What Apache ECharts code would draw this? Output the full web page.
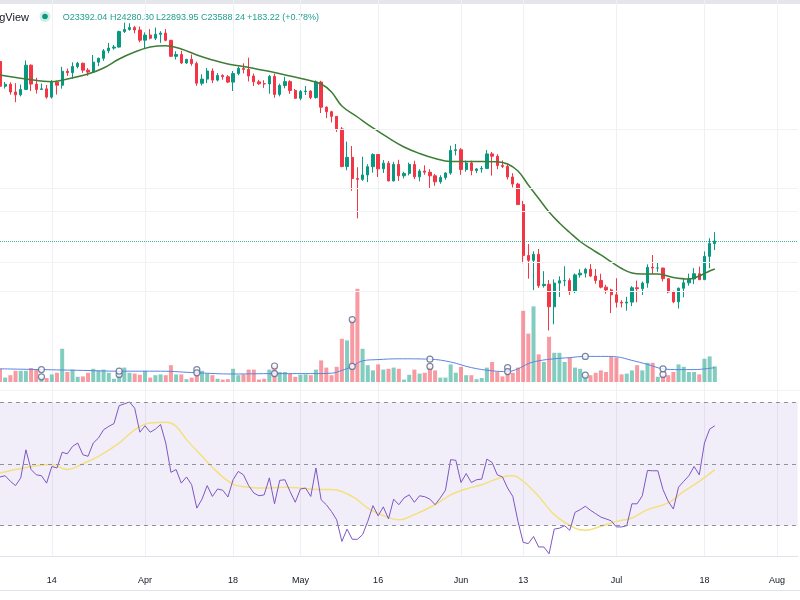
<!DOCTYPE html>
<html><head><meta charset="utf-8">
<script src="https://cdn.jsdelivr.net/npm/echarts@6.0.0/dist/echarts.min.js"></script>
<style>html,body{margin:0;padding:0;background:#fff}#c{width:800px;height:600px}</style>
</head><body><div id="c"></div>
<script>
// ---- categories (daily, 2022-03-04 .. 2022-08-05) ----
const firstDay = '2022-03-04';
const dayCount = 155;
const dates = [];
for (let k = 0; k < dayCount; k++) {
  const d = new Date(Date.UTC(2022, 2, 4 + k));
  dates.push(d.toISOString().slice(0, 10));
}
// ---- tick labels ----
const tickDates = ['2022-03-14','2022-04-01','2022-04-18','2022-05-01','2022-05-16','2022-06-01','2022-06-13','2022-07-01','2022-07-18','2022-08-01'];
const tickTexts = ['14','Apr','18','May','16','Jun','13','Jul','18','Aug'];

// ---- OHLC (Mar 4 .. Jul 20) ----
const opens = [
42450,39150,39400,38420,38060,38740,41940,39420,38730,38810,37780,39670,39280,41110,40920,41760,42200,41260,41000,42360,42890,43960,44350,44500,46820,47130,47430,47060,
45520,46280,45810,46400,46580,45500,43170,43440,42250,42750,42160,39530,40070,41150,39940,40550,40380,39680,40800,41500,41360,40480,39710,39470,39450,40430,38110,39240,39740,38600,
37630,38470,38530,37720,39690,36550,36010,35470,34040,30100,31020,28940,28860,29280,30080,31310,29870,30430,28710,30310,29200,29430,30300,29100,29650,29540,29200,28630,29030,29470,31730,
31800,29800,30450,29700,29860,29910,31370,31130,30200,30110,29090,28420,26570,22490,22140,22580,20380,20470,19020,20550,20710,20720,19990,21110,21230,21500,21030,20730,20280,20100,
19780,19300,19250,19310,20240,20180,20550,21640,21590,21590,20850,19960,19330,20210,20570,20830,21190,20780,22430,23392.04];
const closes = [
39150,39400,38420,38060,38740,41940,39420,38730,38810,37780,39670,39280,41110,40920,41760,42200,41260,41000,42360,42890,43960,44350,44500,46820,47130,47430,47060,45520,
46280,45810,46400,46580,45500,43170,43440,42250,42750,42160,39530,40070,41150,39940,40550,40380,39680,40800,41500,41360,40480,39710,39470,39450,40430,38110,39240,39740,38600,37630,
38470,38530,37720,39690,36550,36010,35470,34040,30100,31020,28940,28860,29280,30080,31310,29870,30430,28710,30310,29200,29430,30300,29100,29650,29540,29200,28630,29030,29470,31730,31800,
29800,30450,29700,29860,29910,31370,31130,30200,30110,29090,28420,26570,22490,22140,22580,20380,20470,19020,20550,20710,20720,19990,21110,21230,21500,21030,20730,20280,20100,19780,
19300,19250,19310,20240,20180,20550,21640,21590,21590,20850,19960,19330,20210,20570,20830,21190,20780,22430,23400,23588.24];
const highs = [
42530,39700,39650,39550,39360,42600,42050,40240,39490,39300,39950,39880,41720,41480,42330,42400,42300,41540,43360,43000,44220,45100,44800,46950,48190,48100,47700,47600,
46700,47200,47440,46880,47200,45500,43900,43970,42800,43430,42420,40700,41560,41500,40870,40710,40600,41140,41760,42200,42980,40800,39980,39930,40620,40800,39470,40370,39920,38800,
38670,39170,38640,39900,39850,36650,36130,35500,34250,32660,32190,30030,31080,30330,31420,31310,30740,30650,30550,30770,29590,30490,30670,29830,30220,29840,29380,29250,29530,32220,32400,
31980,30690,30680,29950,30150,31770,31570,31330,30700,30380,29440,28540,26900,23360,22800,22980,21370,20760,20800,21010,21720,20880,21210,21510,21600,21870,21520,21190,20430,20180,
20880,19430,19650,20350,20720,20660,21850,22530,21960,21600,20860,20050,20250,20880,21200,21580,21690,22790,23800,24280.30];
const lows = [
38550,38850,38090,37150,37870,38660,38540,38220,38660,37580,37590,38100,38830,40500,40130,41500,40900,40500,40880,41810,42550,43600,44120,44420,46600,46950,46550,45200,
44200,45640,45520,45120,45350,43120,42730,42100,42120,41860,39200,39250,39550,39550,39770,39990,39550,38540,40570,40820,39760,39180,39310,38930,38200,37700,37870,38880,38180,37580,
37390,38050,37510,37590,35860,35260,34780,33710,30030,29730,27800,25400,28720,28600,29500,29090,29470,28680,28680,28720,28950,29240,28890,28670,29300,28020,28260,28450,28820,29300,31220,
29300,29590,29250,29460,29500,29890,29220,29840,29950,28850,28100,26560,21930,20850,20080,20230,20250,17600,17960,19640,20350,19770,19890,20920,20930,20960,20510,20200,19850,18630,
18970,18980,18780,19060,19300,19770,20240,21180,21320,20660,19880,19240,18910,19620,20380,20480,20760,20760,21580,22893.95];

// ---- volume (thousands) ----
const volumes = [
33,11,17,28,28,28,35,31,13,10,19,23,83,25,31,13,14,23,33,29,31,23,8,19,36,23,21,18,
28,11,17,19,17,42,19,19,7,11,31,28,21,17,8,6,7,33,17,19,31,31,6,8,31,40,25,25,21,13,
18,19,17,31,54,36,17,38,108,104,156,233,83,42,29,44,31,33,36,33,6,18,31,21,23,39,29,11,11,44,23,
38,17,17,7,10,36,50,25,14,36,23,36,178,121,189,69,50,113,73,73,50,61,36,33,17,17,23,29,25,64,
61,19,21,29,42,29,48,48,13,19,17,25,44,38,25,25,19,58,64,39];
const volMaDates = ['2022-03-04','2022-03-08','2022-03-12','2022-03-16','2022-03-20','2022-03-27','2022-04-04','2022-04-11','2022-04-18','2022-04-26','2022-05-03','2022-05-07','2022-05-09','2022-05-11','2022-05-13','2022-05-16','2022-05-20','2022-05-26','2022-05-30','2022-06-03','2022-06-07','2022-06-10','2022-06-12','2022-06-14','2022-06-16','2022-06-19','2022-06-22','2022-06-25','2022-06-29','2022-07-01','2022-07-04','2022-07-07','2022-07-10','2022-07-13','2022-07-16','2022-07-20'];
const volMaValues = [33,32,31,30,29,27,27,23,20,21,21,22,29,39,53,56,58,57,50,36,28,26,33,46,53,58,61,64,64,63,54,44,33,31,31,36];
const markerDates = ['2022-03-12','2022-03-27','2022-04-11','2022-04-26','2022-05-11','2022-05-26','2022-06-10','2022-06-25','2022-07-10'];

// ---- price moving average ----
const maDates = ['2022-03-04','2022-03-09','2022-03-14','2022-03-17','2022-03-21','2022-03-24','2022-03-27','2022-03-30','2022-04-02','2022-04-05','2022-04-08','2022-04-11','2022-04-14','2022-04-17','2022-04-20','2022-04-23','2022-04-26','2022-04-29','2022-05-02','2022-05-05','2022-05-07','2022-05-09','2022-05-12','2022-05-15','2022-05-18','2022-05-21','2022-05-24','2022-05-27','2022-05-30','2022-06-02','2022-06-05','2022-06-08','2022-06-10','2022-06-12','2022-06-14','2022-06-16','2022-06-18','2022-06-20','2022-06-22','2022-06-24','2022-06-26','2022-06-28','2022-06-30','2022-07-02','2022-07-04','2022-07-06','2022-07-09','2022-07-12','2022-07-15','2022-07-17','2022-07-19','2022-07-20'];
const maValues = [40610,40085,39734,40085,40746,41557,42797,43791,44513,44704,44223,43362,42659,42104,41763,41355,40951,40482,40019,39435,38416,36696,35397,34146,33047,32087,31410,30900,30599,30599,30599,30579,30349,29662,28334,27108,25937,25020,24253,23549,23016,22531,22021,21558,21242,21173,21173,20932,20829,21035,21382,21523];

// ---- RSI ----
const rsiValues = [
45.8,46.2,44.4,43.0,45.5,54.6,48.2,46.5,46.2,43.8,49.2,48.7,53.8,53.3,55.7,56.8,53.0,52.5,56.8,58.4,61.1,62.2,63.1,68.9,69.5,70.1,68.1,60.3,
62.4,60.3,61.3,62.8,56.8,47.3,48.2,43.8,45.8,43.3,35.7,38.6,43.0,39.5,41.9,41.5,39.3,44.9,47.6,46.5,43.0,40.6,39.7,40.0,45.5,37.1,44.7,44.9,41.1,37.6,
41.9,42.2,39.5,48.7,38.4,36.8,34.6,31.9,24.9,28.9,25.6,25.6,27.1,31.4,36.5,33.2,36.1,32.2,38.6,36.8,39.0,40.0,37.6,39.7,39.4,38.6,36.8,39.0,41.5,51.4,51.2,
44.0,46.9,44.0,44.9,45.1,51.6,50.5,46.5,45.8,42.2,39.5,31.4,24.6,24.2,26.5,23.1,23.1,20.9,28.9,29.2,30.0,28.5,34.3,35.2,36.3,35.0,33.9,32.8,32.2,31.6,
29.6,29.6,30.0,37.1,37.1,39.7,47.9,47.8,47.8,41.7,37.9,35.4,42.5,44.4,46.2,49.2,46.5,56.8,61.3,62.4];
const rsiMaDates = ['2022-03-04','2022-03-07','2022-03-11','2022-03-14','2022-03-17','2022-03-20','2022-03-23','2022-03-27','2022-03-30','2022-04-02','2022-04-05','2022-04-07','2022-04-09','2022-04-12','2022-04-15','2022-04-18','2022-04-21','2022-04-25','2022-04-28','2022-05-01','2022-05-04','2022-05-07','2022-05-11','2022-05-14','2022-05-17','2022-05-20','2022-05-23','2022-05-27','2022-05-30','2022-06-02','2022-06-05','2022-06-09','2022-06-11','2022-06-13','2022-06-16','2022-06-19','2022-06-23','2022-06-25','2022-06-28','2022-07-01','2022-07-04','2022-07-07','2022-07-11','2022-07-14','2022-07-17','2022-07-20'];
const rsiMaValues = [47.1,48.2,49.4,49.8,48.2,50.1,52.5,56.8,61.1,63.3,63.5,62.2,57.9,52.5,47.3,43.5,42.5,42.2,42.5,42.2,41.7,41.7,39.5,35.7,33.3,31.9,33.6,36.8,40.0,41.9,43.3,45.8,46.2,44.4,39.5,33.6,29.2,28.5,29.8,31.4,32.5,35.2,37.4,41.1,44.4,48.2];
const rsiLevels = [70, 50, 30];
const priceGridLevels = [20000, 22000, 26000, 28000, 34000];
const headerPieces = ['O23392.04','H24280.30','L22893.95','C23588.24','+183.22 (+0.78%)'];

// ---- layout / styles ----
const BAND = 5.185;
const gridLeft = -0.8;
const gridWidth = BAND * (dayCount - 1);
const UP = '#089981', DOWN = '#f23645';
const FONT = '"Liberation Sans", Arial, sans-serif';
const tickMap = {};
tickDates.forEach((d, k) => tickMap[d] = tickTexts[k]);
const isTick = (idx, val) => tickMap[val] !== undefined;

const candleData = opens.map((o, k) => [o, closes[k], lows[k], highs[k]]);
const volData = volumes.map((v, k) => ({
  value: v,
  itemStyle: { color: closes[k] >= opens[k] ? 'rgba(8,153,129,0.5)' : 'rgba(242,54,69,0.5)' }
}));
const volMaData = volMaDates.map((d, k) => [d, volMaValues[k]]);
const markerBarData = markerDates.map(d => [d, volumes[dates.indexOf(d)]]);
const markerMaData = markerDates.map(d => [d, volMaValues[volMaDates.indexOf(d)]]);
const maData = maDates.map((d, k) => [d, maValues[k]]);
const rsiMaData = rsiMaDates.map((d, k) => [d, rsiMaValues[k]]);

const xBase = {
  type: 'category', data: dates, boundaryGap: false,
  axisTick: { show: false }, axisLine: { show: false }, axisLabel: { show: false },
  splitLine: { show: true, interval: isTick, lineStyle: { color: '#eef0f4', width: 1 } }
};

const chart = echarts.init(document.getElementById('c'), null, { renderer: 'canvas' });
chart.setOption({
  animation: false,
  backgroundColor: '#ffffff',
  grid: [
    { left: gridLeft, width: gridWidth, top: 0, height: 390 },
    { left: gridLeft, width: gridWidth, top: 282, height: 100 },
    { left: gridLeft, width: gridWidth, top: 389.96, height: 166.6 }
  ],
  xAxis: [
    Object.assign({}, xBase, { gridIndex: 0 }),
    Object.assign({}, xBase, { gridIndex: 1, splitLine: { show: false } }),
    Object.assign({}, xBase, {
      gridIndex: 2,
      axisLine: { show: true, lineStyle: { color: '#e0e3eb' } },
      axisLabel: {
        show: true, interval: isTick, formatter: v => tickMap[v] || '',
        color: '#131722', fontSize: 9, fontFamily: FONT, margin: 19
      }
    })
  ],
  yAxis: [
    { gridIndex: 0, type: 'log', min: 14483, max: 51914, show: false, splitLine: { show: false } },
    { gridIndex: 1, type: 'value', min: 0, max: 250, show: false, splitLine: { show: false } },
    { gridIndex: 2, type: 'value', min: 20, max: 74, show: false, splitLine: { show: false } }
  ],
  series: [
    {
      name: 'Volume', type: 'bar', xAxisIndex: 1, yAxisIndex: 1, data: volData,
      barWidth: 4, z: 1, silent: true
    },
    {
      name: 'Volume MA', type: 'line', xAxisIndex: 1, yAxisIndex: 1, data: volMaData,
      smooth: 0.4, symbol: 'none', lineStyle: { color: '#5b84e0', width: 1 }, z: 2
    },
    {
      name: 'Markers', type: 'scatter', xAxisIndex: 1, yAxisIndex: 1,
      data: markerBarData.concat(markerMaData),
      symbol: 'circle', symbolSize: 6,
      itemStyle: { color: '#ffffff', borderColor: '#58668f', borderWidth: 1.2 }, z: 6
    },
    {
      name: 'Price', type: 'candlestick', xAxisIndex: 0, yAxisIndex: 0, data: candleData,
      barWidth: 2.8, z: 3,
      itemStyle: { color: UP, color0: DOWN, borderColor: UP, borderColor0: DOWN, borderWidth: 1 },
      markLine: {
        silent: true, symbol: ['none', 'none'], label: { show: false },
        data: priceGridLevels.map(v => ({ yAxis: v, lineStyle: { color: '#f0f2f6', width: 1, type: 'solid' } }))
          .concat([{ yAxis: closes[closes.length - 1], lineStyle: { color: 'rgba(8,153,129,0.75)', width: 1, type: 'dotted' } }])
      }
    },
    {
      name: 'MA', type: 'line', xAxisIndex: 0, yAxisIndex: 0, data: maData,
      smooth: 0.4, symbol: 'none', lineStyle: { color: '#3d7d35', width: 1.5 }, z: 4
    },
    {
      name: 'RSI MA', type: 'line', xAxisIndex: 2, yAxisIndex: 2, data: rsiMaData,
      smooth: 0.4, symbol: 'none', lineStyle: { color: '#f3e07e', width: 1.5 }, z: 3
    },
    {
      name: 'RSI', type: 'line', xAxisIndex: 2, yAxisIndex: 2, data: rsiValues,
      symbol: 'none', lineStyle: { color: '#7e57c2', width: 1 }, z: 4,
      markArea: {
        silent: true, itemStyle: { color: 'rgba(126,87,194,0.1)' },
        data: [[{ yAxis: rsiLevels[0] }, { yAxis: rsiLevels[2] }]]
      },
      markLine: {
        silent: true, symbol: ['none', 'none'], label: { show: false },
        lineStyle: { color: '#8f929c', width: 1, type: [4, 4] },
        data: rsiLevels.map(v => ({ yAxis: v }))
      }
    }
  ],
  graphic: [
    { type: 'rect', shape: { x: 0, y: 0, width: 800, height: 4 }, style: { fill: '#e4e6eb' }, silent: true },
    { type: 'line', shape: { x1: 0, y1: 390.5, x2: 800, y2: 390.5 }, style: { stroke: '#f0f2f5', lineWidth: 1 }, silent: true },
    { type: 'line', shape: { x1: 0, y1: 590.5, x2: 800, y2: 590.5 }, style: { stroke: '#e0e3eb', lineWidth: 1 }, silent: true },
    { type: 'text', x: 29, y: 17.5, style: { text: 'TradingView', fill: '#131722', fontSize: 11, fontFamily: FONT, align: 'right', verticalAlign: 'middle' } },
    { type: 'circle', shape: { cx: 45, cy: 16.5, r: 5.5 }, style: { fill: 'rgba(8,153,129,0.18)' } },
    { type: 'circle', shape: { cx: 45, cy: 16.5, r: 2.8 }, style: { fill: UP } },
    { type: 'text', x: 62.7, y: 17.5, style: { text: headerPieces[0], fill: '#22a08f', fontSize: 9, fontFamily: FONT, verticalAlign: 'middle' } },
    { type: 'text', x: 110, y: 17.5, style: { text: headerPieces[1], fill: '#22a08f', fontSize: 9, fontFamily: FONT, verticalAlign: 'middle' } },
    { type: 'text', x: 156, y: 17.5, style: { text: headerPieces[2], fill: '#22a08f', fontSize: 9, fontFamily: FONT, verticalAlign: 'middle' } },
    { type: 'text', x: 201, y: 17.5, style: { text: headerPieces[3], fill: '#22a08f', fontSize: 9, fontFamily: FONT, verticalAlign: 'middle' } },
    { type: 'text', x: 247, y: 17.5, style: { text: headerPieces[4], fill: '#22a08f', fontSize: 9, fontFamily: FONT, verticalAlign: 'middle' } }
  ]
});
</script>
</body></html>
